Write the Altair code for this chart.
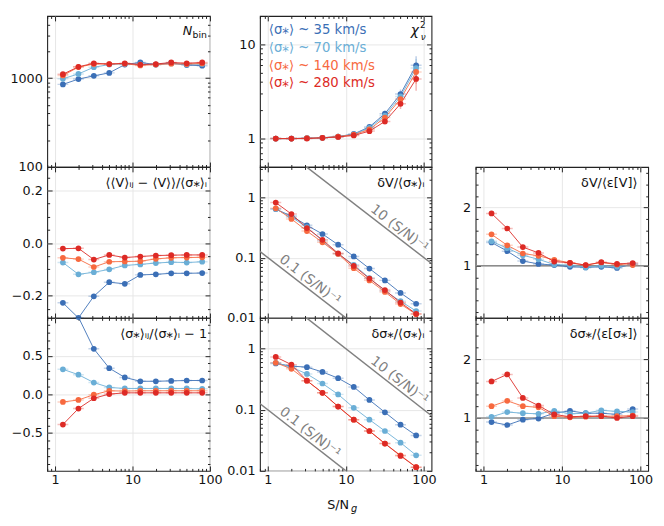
import math
import altair as alt
import pandas as pd

FONT = "DejaVu Sans"

# ---------------- data ----------------
SN = [1.26, 2.0, 3.16, 5.0, 7.94, 12.6, 20.0, 31.6, 50.1, 79.4]
SERIES = ["35", "70", "140", "280"]
COLORS = ["#3b6fb6", "#6aaed6", "#f7693f", "#dd2a25"]
LEGEND = ["⟨σ⁎⟩ ~ 35 km/s", "⟨σ⁎⟩ ~ 70 km/s", "⟨σ⁎⟩ ~ 140 km/s", "⟨σ⁎⟩ ~ 280 km/s"]
XERR_DEX = 0.07

NBIN_35 = [850, 975, 1060, 1145, 1420, 1500, 1420, 1480, 1400, 1380]
NBIN_70 = [983, 1115, 1325, 1420, 1450, 1430, 1420, 1460, 1420, 1440]
NBIN_140 = [1070, 1330, 1440, 1440, 1450, 1390, 1420, 1450, 1440, 1460]
NBIN_280 = [1107, 1340, 1470, 1440, 1470, 1420, 1440, 1500, 1470, 1500]

CHI2_35 = [1.0, 1.0, 1.01, 1.02, 1.05, 1.12, 1.33, 1.84, 2.97, 6.0]
CHI2_70 = [1.0, 1.0, 1.01, 1.02, 1.05, 1.11, 1.30, 1.75, 2.80, 5.6]
CHI2_140 = [1.0, 1.0, 1.01, 1.02, 1.05, 1.10, 1.25, 1.67, 2.63, 5.1]
CHI2_280 = [1.0, 1.0, 1.0, 1.02, 1.04, 1.08, 1.20, 1.52, 2.34, 4.3]
CHI2_REL_ERR = [0.002, 0.002, 0.003, 0.004, 0.008, 0.015, 0.03, 0.07, 0.12, 0.25]

DMEAN_35 = [-0.2275, -0.285, -0.2025, -0.149, -0.155, -0.121, -0.119, -0.115, -0.115, -0.114]
DMEAN_70 = [-0.074, -0.119, -0.111, -0.100, -0.085, -0.081, -0.076, -0.0725, -0.074, -0.071]
DMEAN_140 = [-0.056, -0.061, -0.091, -0.071, -0.070, -0.069, -0.060, -0.056, -0.055, -0.054]
DMEAN_280 = [-0.021, -0.020, -0.0625, -0.045, -0.055, -0.051, -0.0475, -0.046, -0.045, -0.045]

DV_35 = [0.64, 0.49, 0.345, 0.247, 0.164, 0.105, 0.066, 0.042, 0.026, 0.0172]
DV_70 = [0.64, 0.47, 0.32, 0.19, 0.116, 0.076, 0.046, 0.028, 0.019, 0.013]
DV_140 = [0.66, 0.44, 0.276, 0.18, 0.115, 0.067, 0.042, 0.027, 0.017, 0.0115]
DV_280 = [0.82, 0.53, 0.31, 0.198, 0.118, 0.073, 0.045, 0.029, 0.018, 0.0117]

SREL_35 = [1.6, 1.0, 0.59, 0.34, 0.22, 0.17, 0.17, 0.175, 0.18, 0.18]
SREL_70 = [0.325, 0.255, 0.153, 0.09, 0.077, 0.077, 0.077, 0.077, 0.077, 0.072]
SREL_140 = [-0.098, -0.072, -0.004, 0.047, 0.043, 0.047, 0.047, 0.047, 0.047, 0.047]
SREL_280 = [-0.39, -0.183, -0.05, 0.004, 0.02, 0.02, 0.02, 0.02, 0.02, 0.02]

DS_35 = [0.575, 0.52, 0.50, 0.417, 0.33, 0.237, 0.145, 0.091, 0.057, 0.038]
DS_70 = [0.59, 0.50, 0.387, 0.27, 0.179, 0.108, 0.069, 0.045, 0.029, 0.018]
DS_140 = [0.59, 0.47, 0.30, 0.19, 0.113, 0.069, 0.045, 0.028, 0.018, 0.0115]
DS_280 = [0.735, 0.55, 0.30, 0.19, 0.113, 0.069, 0.045, 0.028, 0.0176, 0.0115]

DVE_35 = [1.40, 1.25, 1.08, 1.03, 1.01, 0.98, 0.97, 0.98, 0.96, 1.03]
DVE_70 = [1.42, 1.30, 1.18, 1.11, 1.02, 1.01, 0.97, 1.00, 0.98, 1.02]
DVE_140 = [1.54, 1.35, 1.21, 1.17, 1.10, 1.05, 1.01, 1.055, 1.02, 1.01]
DVE_280 = [1.90, 1.64, 1.32, 1.22, 1.07, 1.05, 1.01, 1.06, 1.03, 1.045]

DSE_35 = [0.93, 0.88, 0.97, 0.99, 1.08, 1.12, 1.08, 1.08, 1.06, 1.15]
DSE_70 = [1.02, 1.10, 1.08, 1.07, 1.12, 1.07, 1.08, 1.13, 1.11, 1.10]
DSE_140 = [1.20, 1.29, 1.20, 1.18, 1.03, 1.01, 1.02, 1.03, 1.03, 1.04]
DSE_280 = [1.62, 1.74, 1.34, 1.21, 1.06, 1.02, 1.03, 1.03, 1.00, 1.03]

REF_K = [10.0, 0.1]
REF_TEXT = ["10 (S/N)⁻¹", "0.1 (S/N)⁻¹"]
REF_LABEL_X = [42.0, 3.0]

ONE = pd.DataFrame({"a": [0]})


def log_ticks(lo, hi):
    maj, mnr = [], []
    for k in range(-3, 5):
        v = round(10.0 ** k, 6)
        if lo <= v <= hi:
            maj.append(v)
        for m in range(2, 10):
            w = round(m * 10.0 ** k, 6)
            if lo <= w <= hi:
                mnr.append(w)
    return maj, mnr


def lin_ticks(lo, hi, step_major, step_minor):
    maj, mnr = [], []
    n0, n1 = math.ceil(lo / step_minor - 1e-9), math.floor(hi / step_minor + 1e-9)
    for n in range(n0, n1 + 1):
        v = round(n * step_minor, 6)
        if abs(v / step_major - round(v / step_major)) < 1e-6:
            maj.append(v)
        else:
            mnr.append(v)
    return maj, mnr


def long_df(lists, rel=None):
    rows = []
    for s, vals in zip(SERIES, lists):
        for i, (x, v) in enumerate(zip(SN, vals)):
            e = v * rel[i] if rel else 0.0
            rows.append(dict(sn=x, val=v, series=s, xlo=x / 10 ** XERR_DEX,
                             xhi=x * 10 ** XERR_DEX, ylo=v - e, yhi=v + e))
    return pd.DataFrame(rows)


def txt(s, x, y, size=13, color="#111111", align="right", style="normal", baseline="alphabetic"):
    return alt.Chart(ONE).mark_text(text=s, align=align, baseline=baseline, fontSize=size,
                                    font=FONT, fontStyle=style, color=color).encode(
        x=alt.value(x), y=alt.value(y))


def panel(lists, W, H, xdom, ydom, ylog, ymaj, ymin, yfmt, xlabels, overlays,
          rel=None, refs=False, unity=False):
    xs = alt.Scale(type="log", domain=list(xdom))
    ys = alt.Scale(type="log" if ylog else "linear", domain=list(ydom))
    df = long_df(lists, rel)
    color = alt.Color("series:N", scale=alt.Scale(domain=SERIES, range=COLORS), legend=None)
    xmaj, xmin = log_ticks(*xdom)
    # a single invisible anchor at the middle of the view carries the axes
    xc = math.sqrt(xdom[0] * xdom[1])
    yc = math.sqrt(ydom[0] * ydom[1]) if ylog else 0.5 * (ydom[0] + ydom[1])
    ad = pd.DataFrame({"ax": [xc], "ay": [yc]})
    layers = []
    layers.append(alt.Chart(ad).mark_point(opacity=0, size=0).encode(
        x=alt.X("ax:Q", scale=xs, title=None,
                axis=alt.Axis(orient="bottom", values=xmaj, ticks=False, labels=False,
                              grid=True, domain=False)),
        y=alt.Y("ay:Q", scale=ys, title=None,
                axis=alt.Axis(orient="left", values=ymaj, ticks=False, labels=False,
                              grid=True, domain=False))))
    for xo, yo, xv, yv, t, lab in [
        ("bottom", "left", xmaj, ymaj, 5, True),
        ("bottom", "left", xmin, ymin, 2.5, False),
        ("top", "right", xmaj, ymaj, 5, False),
        ("top", "right", xmin, ymin, 2.5, False),
    ]:
        xa = alt.Axis(orient=xo, values=xv, tickSize=t, offset=-t, labels=bool(lab and xlabels),
                      grid=False, domain=False, labelPadding=3, labelFlush=False,
                      labelExpr="format(datum.value, '~g')")
        ya = alt.Axis(orient=yo, values=yv, tickSize=t, offset=-t, labels=lab, grid=False,
                      domain=False, labelPadding=5, labelFlush=False, labelExpr=yfmt)
        layers.append(alt.Chart(ad).mark_point(opacity=0, size=0).encode(
            x=alt.X("ax:Q", scale=xs, axis=xa, title=None),
            y=alt.Y("ay:Q", scale=ys, axis=ya, title=None)))
    if unity:
        layers.append(alt.Chart(pd.DataFrame({"u": [1.0]})).mark_rule(
            color="#8c8c8c", strokeWidth=1.6).encode(y=alt.Y("u:Q", scale=ys, axis=None)))
    if refs:
        rdf = pd.DataFrame([{"x": x, "y": k / x, "k": str(k)} for k in REF_K for x in (0.3, 300.0)])
        layers.append(alt.Chart(rdf).mark_line(color="#808080", strokeWidth=1.5, clip=True).encode(
            x=alt.X("x:Q", scale=xs, axis=None), y=alt.Y("y:Q", scale=ys, axis=None), detail="k:N"))
        ang = math.degrees(math.atan((H / math.log10(ydom[1] / ydom[0])) /
                                     (W / math.log10(xdom[1] / xdom[0]))))
        ldf = pd.DataFrame({"x": REF_LABEL_X, "y": [k / x for k, x in zip(REF_K, REF_LABEL_X)],
                            "t": REF_TEXT})
        layers.append(alt.Chart(ldf).mark_text(angle=ang, dy=-4, color="#808080", fontSize=14,
                                               font=FONT, align="center", baseline="alphabetic").encode(
            x=alt.X("x:Q", scale=xs, axis=None), y=alt.Y("y:Q", scale=ys, axis=None), text="t:N"))
    X = alt.X("sn:Q", scale=xs, axis=None)
    Y = alt.Y("val:Q", scale=ys, axis=None)
    base = alt.Chart(df)
    layers.append(base.mark_rule(strokeWidth=1.5, opacity=0.3, clip=True).encode(
        x=alt.X("xlo:Q", scale=xs, axis=None), x2="xhi:Q", y=Y, color=color))
    if rel:
        layers.append(base.mark_rule(strokeWidth=1.5, opacity=0.35, clip=True).encode(
            x=X, y=alt.Y("ylo:Q", scale=ys, axis=None), y2="yhi:Q", color=color))
    layers.append(base.mark_line(strokeWidth=0.9, clip=True).encode(x=X, y=Y, color=color))
    layers.append(base.mark_circle(size=34, opacity=1, clip=True).encode(x=X, y=Y, color=color))
    layers += overlays
    return alt.layer(*layers).resolve_axis(x="independent", y="independent").properties(
        width=W, height=H)


W1, W2, W3 = 166, 175, 176
H1, H2, H3 = 154, 154, 156
XD1 = (0.79, 100.0)
XD2 = (0.79, 125.0)
LOGFMT = "format(datum.value, '~g')"
F1 = "format(datum.value, '.1f')"
FD = "format(datum.value, 'd')"

# column 1
yd = (100.0, 5000.0)
mj, mn = log_ticks(*yd)
p11 = panel([NBIN_35, NBIN_70, NBIN_140, NBIN_280], W1, H1, XD1, yd, True, mj, mn, LOGFMT, False,
            [txt("N", W1 - 18, 19, size=13, style="italic"), txt("bin", W1 - 3, 22, size=9.5)])

yd = (-0.285, 0.29)
mj, mn = lin_ticks(*yd, 0.2, 0.05)
p21 = panel([DMEAN_35, DMEAN_70, DMEAN_140, DMEAN_280], W1, H2, XD1, yd, False, mj, mn, F1, False,
            [txt("⟨⟨V⟩ᵢⱼ − ⟨V⟩⟩/⟨σ⁎⟩ᵢ", W1 - 3, 20)])

yd = (-0.99, 0.99)
mj, mn = lin_ticks(*yd, 0.5, 0.1)
p31 = panel([SREL_35, SREL_70, SREL_140, SREL_280], W1, H3, XD1, yd, False, mj, mn, F1, True,
            [txt("⟨σ⁎⟩ᵢⱼ/⟨σ⁎⟩ᵢ − 1", W1 - 3, 20)])

# column 2
yd = (0.5, 20.0)
mj, mn = log_ticks(*yd)
leg = [txt(t, 9, 14 + 18.3 * i, size=13.5, color=c, align="left", baseline="middle")
       for i, (t, c) in enumerate(zip(LEGEND, COLORS))]
p12 = panel([CHI2_35, CHI2_70, CHI2_140, CHI2_280], W2, H1, XD2, yd, True, mj, mn, LOGFMT, False,
            leg + [txt("χ", W2 - 13, 19, size=14, style="italic"),
                   txt("2", W2 - 6, 12, size=9), txt("ν", W2 - 6, 24, size=9, style="italic")],
            rel=CHI2_REL_ERR)

yd = (0.01, 3.2)
mj, mn = log_ticks(*yd)
p22 = panel([DV_35, DV_70, DV_140, DV_280], W2, H2, XD2, yd, True, mj, mn, LOGFMT, False,
            [txt("δV/⟨σ⁎⟩ᵢ", W2 - 7, 20)], refs=True)
p32 = panel([DS_35, DS_70, DS_140, DS_280], W2, H3, XD2, yd, True, mj, mn, LOGFMT, True,
            [txt("δσ⁎/⟨σ⁎⟩ᵢ", W2 - 7, 20),
             txt("S/N", 91, H3 + 39, size=13), txt("g", 93, H3 + 42, size=10, align="left", style="italic")],
            refs=True)

# column 3
yd = (0.1, 2.7)
mj, mn = lin_ticks(*yd, 1.0, 0.2)
p23 = panel([DVE_35, DVE_70, DVE_140, DVE_280], W3, H2, XD2, yd, False, mj, mn, FD, False,
            [txt("δV/⟨ε[V]⟩", W3 - 11, 20)], unity=True)
p33 = panel([DSE_35, DSE_70, DSE_140, DSE_280], W3, H3, XD2, yd, False, mj, mn, FD, True,
            [txt("δσ⁎/⟨ε[σ⁎]⟩", W3 - 11, 20)], unity=True)

spacer = alt.Chart(ONE).mark_point(opacity=0, size=0).encode(
    x=alt.value(W3 / 2), y=alt.value(H1 / 2)).properties(
    width=W3, height=H1, view=alt.ViewBackground(strokeOpacity=0))

col1 = alt.vconcat(p11, p21, p31, spacing=0, bounds="flush").resolve_scale(x="independent", y="independent")
col2 = alt.vconcat(p12, p22, p32, spacing=0, bounds="flush").resolve_scale(x="independent", y="independent")
col3 = alt.vconcat(spacer, p23, p33, spacing=0, bounds="flush").resolve_scale(x="independent", y="independent")
left = alt.hconcat(col1, col2, spacing=3).resolve_scale(x="independent", y="independent")
chart = alt.hconcat(left, col3, spacing=25).resolve_scale(x="independent", y="independent").properties(
    padding={"left": 1, "top": 1, "right": 2, "bottom": 2}
).configure_view(stroke="#222222", strokeWidth=1.1).configure_axis(
    labelFont=FONT, labelFontSize=13, labelColor="#111111", tickColor="#222222", tickWidth=1,
    gridColor="#e6e6e6", gridWidth=1)

chart.save("out.html", embed_options={"renderer": "svg", "actions": False})
